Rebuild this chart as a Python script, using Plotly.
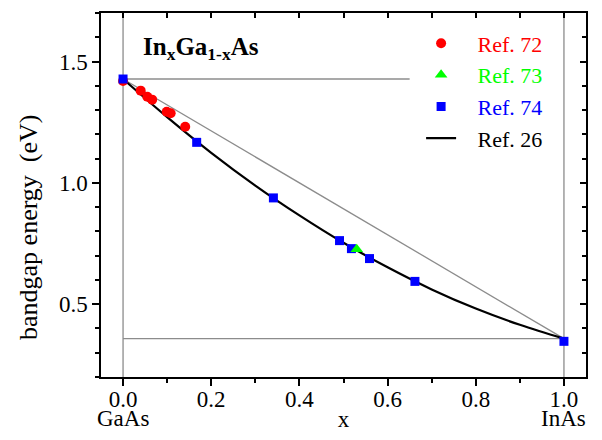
import plotly.graph_objects as go

# Band-gap energies of In(x)Ga(1-x)As versus indium fraction x
ref72_x = [0.0, 0.04, 0.055, 0.066, 0.099, 0.108, 0.141]
ref72_y = [1.42, 1.380, 1.355, 1.343, 1.293, 1.287, 1.231]

ref73_x = [0.53]
ref73_y = [0.726]

ref74_x = [0.0, 0.167, 0.341, 0.491, 0.518, 0.559, 0.662, 1.0]
ref74_y = [1.428, 1.167, 0.938, 0.762, 0.729, 0.688, 0.594, 0.347]

ref26_x = [0.0, 0.1, 0.2, 0.3, 0.4, 0.5, 0.6, 0.7, 0.8, 0.9, 1.0]
ref26_y = [1.428, 1.271, 1.124, 0.989, 0.866, 0.753, 0.652, 0.561, 0.482, 0.415, 0.358]

# End-member gaps (GaAs, InAs) and the straight-line interpolation between them
gaas_gap = 1.428
inas_gap = 0.358
gaas_level_x = [0.0, 0.65]
inas_level_x = [0.0, 1.0]
vegard_x = [0.0, 1.0]
vegard_y = [gaas_gap, inas_gap]

x_ticks = [0.0, 0.2, 0.4, 0.6, 0.8, 1.0]
y_ticks = [0.5, 1.0, 1.5]

FONT = "Times New Roman, Liberation Serif, serif"
GREY = "#8c8c8c"
PAD = "\u00a0\u00a0\u00a0"  # gap between legend symbol and label

fig = go.Figure()

# grey guide lines
fig.add_trace(go.Scatter(x=gaas_level_x, y=[gaas_gap] * 2, mode="lines",
                         line=dict(color=GREY, width=1.3), showlegend=False, hoverinfo="skip"))
fig.add_trace(go.Scatter(x=inas_level_x, y=[inas_gap] * 2, mode="lines",
                         line=dict(color=GREY, width=1.3), showlegend=False, hoverinfo="skip"))
fig.add_trace(go.Scatter(x=vegard_x, y=vegard_y, mode="lines",
                         line=dict(color=GREY, width=1.3), showlegend=False, hoverinfo="skip"))
for xv in [0.0, 1.0]:
    fig.add_vline(x=xv, line=dict(color=GREY, width=1.3), layer="below")

# fitted curve
fig.add_trace(go.Scatter(x=ref26_x, y=ref26_y, mode="lines", line=dict(color="black", width=2.2, shape="spline"),
                         name=PAD + "<span style='color:black'>Ref. 26</span>", legendrank=4))

fig.add_trace(go.Scatter(x=ref72_x, y=ref72_y, mode="markers",
                         marker=dict(symbol="circle", size=10, color="#ff0000"),
                         name=PAD + "<span style='color:#ff0000'>Ref. 72</span>", legendrank=1))
fig.add_trace(go.Scatter(x=ref74_x, y=ref74_y, mode="markers",
                         marker=dict(symbol="square", size=9, color="#0000ff"),
                         name=PAD + "<span style='color:#0000ff'>Ref. 74</span>", legendrank=3))
fig.add_trace(go.Scatter(x=ref73_x, y=ref73_y, mode="markers",
                         marker=dict(symbol="triangle-up", size=11, color="#00ff00"),
                         name=PAD + "<span style='color:#00ff00'>Ref. 73</span>", legendrank=2))

axis_common = dict(showgrid=False, zeroline=False, showline=True, linecolor="black", linewidth=1.5,
                   tickcolor="black", tickwidth=1.5, automargin=False,
                   tickfont=dict(family=FONT, size=23, color="black"))

fig.update_layout(
    width=602, height=440,
    margin=dict(l=101, r=16, t=13, b=63),
    paper_bgcolor="white", plot_bgcolor="white",
    font=dict(family=FONT, size=23, color="black"),
    xaxis=dict(range=[-0.05, 1.05], tickvals=x_ticks, tickformat=".1f", ticks="outside", ticklen=7,
               ticklabelstandoff=-6,
               minor=dict(dtick=0.1, tick0=0, ticks="outside", ticklen=4, tickcolor="black", tickwidth=1.5),
               title=dict(text="x", font=dict(family=FONT, size=23), standoff=0), **axis_common),
    yaxis=dict(range=[0.2, 1.7], tickvals=y_ticks, tickformat=".1f", ticks="outside", ticklen=7,
               minor=dict(dtick=0.1, tick0=0, ticks="outside", ticklen=4, tickcolor="black", tickwidth=1.5),
               **axis_common),
    xaxis2=dict(overlaying="x", matches="x", side="top", range=[-0.05, 1.05], tickvals=[],
                showticklabels=False, ticks="", automargin=False,
                minor=dict(dtick=0.1, tick0=0, ticks="inside", ticklen=5, tickcolor="black", tickwidth=1.5),
                showgrid=False, zeroline=False, showline=True, linecolor="black", linewidth=1.5),
    yaxis2=dict(overlaying="y", matches="y", side="right", range=[0.2, 1.7], tickvals=y_ticks,
                showticklabels=False, ticks="inside", ticklen=6, tickcolor="black", tickwidth=1.5,
                automargin=False,
                minor=dict(dtick=0.1, tick0=0, ticks="inside", ticklen=4, tickcolor="black", tickwidth=1.5),
                showgrid=False, zeroline=False, showline=True, linecolor="black", linewidth=1.5),
    legend=dict(x=0.66, y=0.974, xanchor="left", yanchor="top", bgcolor="rgba(0,0,0,0)",
                font=dict(family=FONT, size=22), itemwidth=30, tracegroupgap=0),
    showlegend=True,
)

# invisible trace to bind the mirror axes
fig.add_trace(go.Scatter(x=[None], y=[None], xaxis="x2", yaxis="y2", showlegend=False, hoverinfo="skip"))

fig.add_annotation(text="<b>In<sub>x</sub>Ga<sub>1-x</sub>As</b>", x=0.04, y=1.555, xref="x", yref="y",
                   xanchor="left", yanchor="middle", showarrow=False,
                   font=dict(family=FONT, size=25, color="black"))
fig.add_annotation(text="bandgap energy  (eV)", x=-0.148, y=0.41, xref="paper", yref="paper",
                   xanchor="center", yanchor="middle",
                   textangle=-90, showarrow=False, font=dict(family=FONT, size=26, color="black"))
fig.add_annotation(text="GaAs", x=0.0, y=-0.073, xref="x", yref="paper", yanchor="top",
                   showarrow=False, font=dict(family=FONT, size=23, color="black"))
fig.add_annotation(text="InAs", x=1.0, y=-0.073, xref="x", yref="paper", yanchor="top",
                   showarrow=False, font=dict(family=FONT, size=23, color="black"))

fig.write_html("out.html")
